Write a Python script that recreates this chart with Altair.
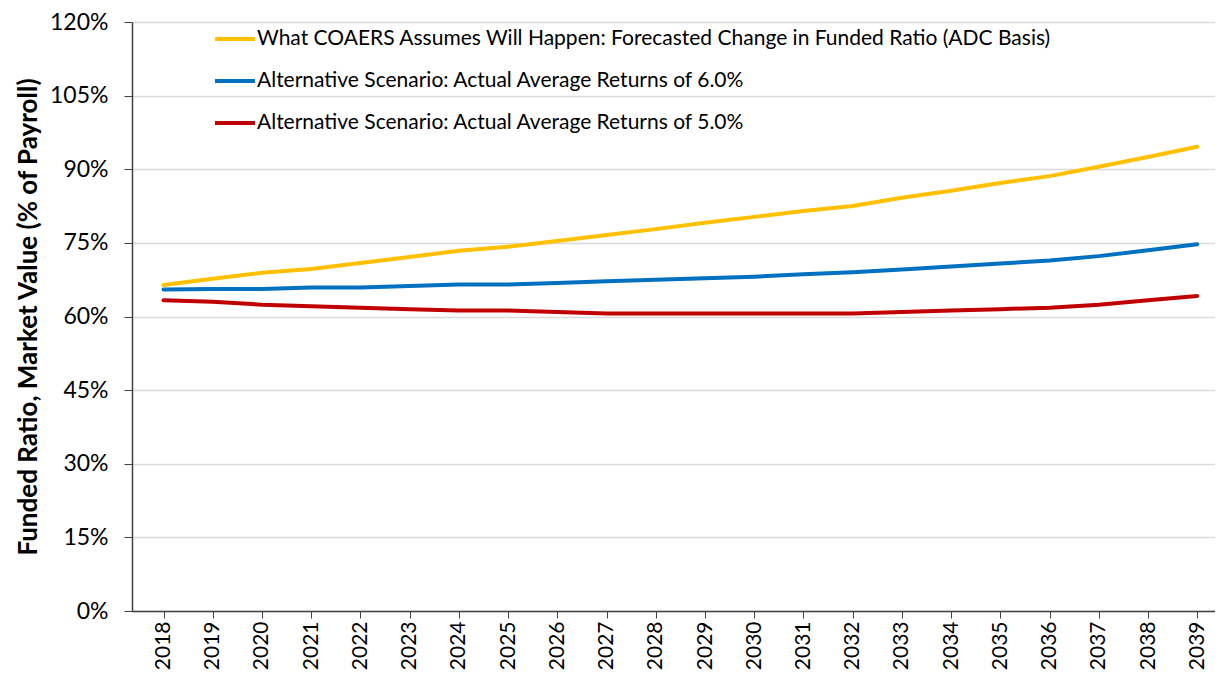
import altair as alt
import pandas as pd

years = [str(y) for y in range(2018, 2040)]
series_names = [
    "What COAERS Assumes Will Happen: Forecasted Change in Funded Ratio (ADC Basis)",
    "Alternative Scenario: Actual Average Returns of 6.0%",
    "Alternative Scenario: Actual Average Returns of 5.0%",
]
colors = ["#FFC000", "#0070C0", "#C00000"]

assumed = [66.4, 67.7, 68.9, 69.7, 70.9, 72.1, 73.4, 74.2, 75.4, 76.6, 77.8,
           79.1, 80.3, 81.5, 82.5, 84.2, 85.6, 87.2, 88.6, 90.5, 92.5, 94.6]
alt6 = [65.5, 65.6, 65.6, 65.9, 65.9, 66.2, 66.5, 66.5, 66.8, 67.2, 67.5,
        67.8, 68.1, 68.6, 69.0, 69.6, 70.2, 70.8, 71.4, 72.3, 73.5, 74.7]
alt5 = [63.3, 63.0, 62.4, 62.1, 61.8, 61.5, 61.2, 61.2, 60.9, 60.6, 60.6,
        60.6, 60.6, 60.6, 60.6, 60.9, 61.2, 61.5, 61.8, 62.4, 63.3, 64.2]

rows = []
for name, vals in zip(series_names, [assumed, alt6, alt5]):
    for y, v in zip(years, vals):
        rows.append({"Year": y, "Series": name, "Value": v / 100.0})
df = pd.DataFrame(rows)

FONT = "Lato"

chart = alt.Chart(df).mark_line(strokeWidth=4, strokeCap="round").encode(
    x=alt.X("Year:N", sort=years, title=None,
            scale=alt.Scale(paddingInner=1, paddingOuter=0.393, align=0.64),
            axis=alt.Axis(labelAngle=-90, labelFontSize=21, labelFont=FONT,
                          labelColor="#000", labelPadding=3,
                          tickSize=7, tickColor="#404040", domainColor="#404040",
                          domainWidth=1.5, grid=False, labelBaseline="middle",
                          labelAlign="right")),
    y=alt.Y("Value:Q", title="Funded Ratio, Market Value (% of Payroll)",
            scale=alt.Scale(domain=[0, 1.2], nice=False),
            axis=alt.Axis(values=[i * 0.15 for i in range(9)], format=".0%",
                          labelFontSize=23, labelFont=FONT, labelColor="#000",
                          labelPadding=16, tickSize=8, tickColor="#404040",
                          domainColor="#404040", domainWidth=1.5,
                          gridColor="#d9d9d9", gridWidth=1.3,
                          titleFont=FONT, titleFontSize=26, titleFontWeight="bold",
                          titleColor="#000", titlePadding=8)),
    color=alt.Color("Series:N", sort=series_names,
                    scale=alt.Scale(domain=series_names, range=colors),
                    legend=alt.Legend(title=None, orient="none", legendX=81, legendY=-5,
                                      symbolType="stroke", symbolSize=1600,
                                      symbolStrokeWidth=4, labelFontSize=21,
                                      labelFont=FONT, labelColor="#000",
                                      labelOffset=0, rowPadding=10, padding=0,
                                      labelLimit=1000)),
).properties(
    width=1083, height=589,
    autosize=alt.AutoSizeParams(type="none"),
    padding={"left": 124, "top": 14, "right": 0, "bottom": 62},
).configure_view(stroke=None)

chart.save("out.html", embed_options={"renderer": "svg", "actions": False})
